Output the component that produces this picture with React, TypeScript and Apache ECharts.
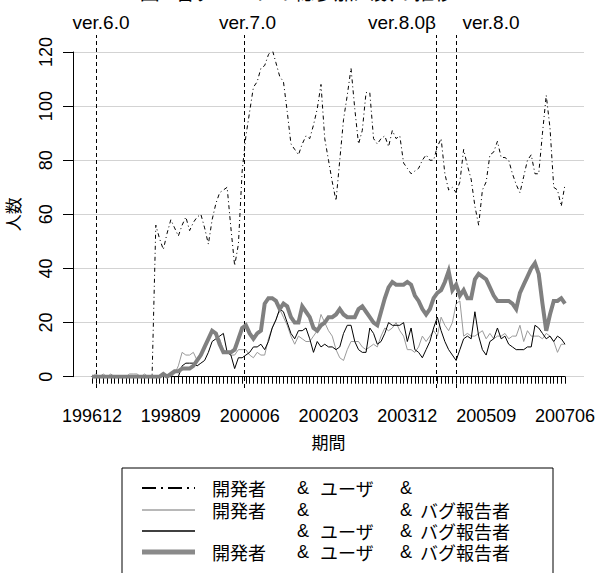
import React, { useEffect, useRef } from 'react';
import * as echarts from 'echarts';

// ---------- data ----------
const START_YEAR = 1996;
const START_MONTH = 12;
const MONTH_COUNT = 127;
const months: string[] = [];
for (let i = 0; i < MONTH_COUNT; i++) {
  const t = START_MONTH - 1 + i;
  const y = START_YEAR + Math.floor(t / 12);
  const m = (t % 12) + 1;
  months.push(`${y}${m < 10 ? '0' + m : m}`);
}

// 開発者 & ユーザ &
const devUser = [
  0, 0, 0, 0, 0, 0, 0, 0, 0, 0,
  0, 0, 0, 0, 0, 0, 0, 56, 51, 47,
  53, 58, 55, 52, 56, 59, 54, 57, 59, 60,
  55, 49, 58, 64, 68, 69, 70, 55, 41, 49,
  76, 89, 98, 107, 109, 114, 115, 119, 121, 116,
  111, 109, 98, 86, 84, 82, 86, 89, 88, 93,
  99, 108, 88, 80, 72, 65, 80, 95, 104, 114,
  99, 86, 91, 105, 105, 88, 86, 88, 89, 85,
  91, 88, 89, 79, 77, 75, 76, 77, 80, 82,
  80, 80, 85, 88, 75, 69, 70, 68, 72, 84,
  78, 73, 63, 56, 69, 72, 82, 83, 87, 81,
  81, 80, 75, 71, 68, 74, 80, 82, 75, 75,
  90, 104, 92, 70, 69, 63, 71,
];

// 開発者 & & バグ報告者
const devBug = [
  0, 1, 0, 1, 0, 1, 0, 0, 0, 0,
  1, 1, 1, 0, 1, 0, 0, 0, 0, 0,
  0, 0, 1, 4, 9, 8, 8, 9, 6, 9,
  11, 14, 17, 15, 14, 10, 9, 8, 8, 10,
  10, 10, 8, 7, 9, 8, 8, 14, 18, 21,
  25, 22, 19, 15, 12, 15, 14, 13, 13, 15,
  17, 23, 20, 17, 15, 10, 7, 6, 10, 13,
  13, 13, 11, 10, 11, 12, 11, 15, 18, 17,
  18, 20, 17, 15, 10, 10, 9, 11, 15, 13,
  15, 17, 15, 22, 19, 17, 20, 27, 28, 15,
  16, 15, 15, 16, 17, 14, 16, 14, 15, 15,
  16, 14, 15, 15, 19, 13, 17, 15, 15, 15,
  14, 16, 15, 13, 9, 12, 12,
];

// & ユーザ & バグ報告者
const userBug = [
  0, 0, 0, 0, 0, 0, 0, 0, 0, 0,
  0, 0, 0, 0, 0, 0, 0, 0, 0, 0,
  0, 0, 0, 0, 4, 5, 5, 5, 4, 5,
  6, 9, 13, 14, 15, 16, 9, 8, 3, 7,
  7, 8, 9, 11, 11, 12, 10, 13, 18, 21,
  25, 24, 20, 16, 14, 17, 17, 18, 14, 9,
  13, 11, 12, 11, 11, 10, 11, 16, 19, 19,
  13, 10, 9, 9, 18, 16, 12, 13, 16, 20,
  19, 19, 19, 20, 13, 18, 10, 9, 7, 10,
  13, 18, 22, 17, 13, 10, 8, 6, 10, 14,
  15, 14, 24, 15, 10, 8, 13, 14, 18, 14,
  15, 12, 11, 10, 10, 10, 11, 11, 19, 18,
  16, 14, 15, 13, 15, 14, 12,
];

// 開発者 & ユーザ & バグ報告者
const allThree = [
  0, 0, 0, 0, 0, 0, 0, 0, 0, 0,
  0, 0, 0, 0, 0, 0, 0, 0, 0, 1,
  0, 1, 2, 2, 3, 3, 3, 4, 6, 8,
  11, 14, 17, 16, 12, 9, 9, 9, 10, 14,
  18, 19, 16, 14, 16, 17, 27, 29, 29, 28,
  25, 27, 26, 22, 20, 20, 26, 24, 22, 18,
  17, 19, 20, 22, 22, 23, 25, 23, 22, 22,
  22, 25, 26, 24, 22, 20, 19, 24, 29, 33,
  35, 34, 34, 34, 35, 34, 30, 28, 25, 23,
  25, 29, 31, 32, 35, 39, 32, 34, 30, 32,
  29, 29, 36, 38, 37, 36, 33, 30, 28, 28,
  28, 28, 27, 25, 31, 34, 37, 40, 42, 38,
  27, 17, 23, 28, 28, 29, 27,
];

// release markers (position in months from 199612)
const versionNames = ['ver.6.0', 'ver.7.0', 'ver.8.0β', 'ver.8.0'];
const versionAt = [1, 40.6, 91.8, 97];

const legendRows = [
  ['開発者', '&', 'ユーザ', '&', ''],
  ['開発者', '&', '', '&', 'バグ報告者'],
  ['', '&', 'ユーザ', '&', 'バグ報告者'],
  ['開発者', '&', 'ユーザ', '&', 'バグ報告者'],
];

const TITLE = '図4 各グループの総参加人数の推移';

// ---------- styles ----------
const LATIN = '"Liberation Sans", Arial, "Noto Sans CJK JP", sans-serif';
const CJK = '"Noto Sans CJK JP", "Liberation Sans", sans-serif';
const DASHDOT = [4, 3, 1, 3];
const seriesStyles = [
  { color: '#000000', width: 1, type: DASHDOT as any },
  { color: '#9a9a9a', width: 1, type: 'solid' },
  { color: '#000000', width: 1, type: 'solid' },
  { color: '#808080', width: 4, type: 'solid' },
];
const legendLineStyles = [
  { stroke: '#000', lineWidth: 2, lineDash: [14, 5, 2, 5] },
  { stroke: '#a0a0a0', lineWidth: 1.5, lineDash: null },
  { stroke: '#000', lineWidth: 1.5, lineDash: null },
  { stroke: '#8a8a8a', lineWidth: 5, lineDash: null },
];

function buildOption() {
  const seriesData = [devUser, devBug, userBug, allThree];
  const series: any[] = seriesData.map((d, i) => ({
    type: 'line',
    xAxisIndex: 0,
    yAxisIndex: 0,
    data: d,
    symbol: 'none',
    showSymbol: false,
    silent: true,
    z: 2 + i,
    lineStyle: { ...seriesStyles[i], cap: 'butt', join: 'miter' },
  }));
  series.push({
    type: 'line',
    xAxisIndex: 2,
    yAxisIndex: 2,
    data: [],
    symbol: 'none',
    silent: true,
    z: 1,
    markLine: {
      silent: true,
      symbol: 'none',
      animation: false,
      label: { show: false },
      lineStyle: { color: '#000', width: 1, type: [4, 3] },
      data: versionAt.map((v) => ({ xAxis: v })),
    },
  });

  const legendX = { line1: 142, line2: 195, cols: [212, 297, 320, 400, 420] };
  const legendY = [488, 510, 531, 552];
  const graphic: any[] = [
    {
      type: 'text',
      left: 'center',
      top: -19,
      style: { text: TITLE, font: `20px ${CJK}`, fill: '#000' },
    },
    {
      type: 'rect',
      shape: { x: 122, y: 468, width: 431, height: 130 },
      style: { fill: '#fff', stroke: '#000', lineWidth: 1 },
      z: 10,
    },
  ];
  const versionLabelX = [101, 247.5, 402, 491];
  versionNames.forEach((name, i) => {
    graphic.push({
      type: 'text',
      x: versionLabelX[i],
      y: 22,
      z: 10,
      style: {
        text: name,
        font: `19px ${LATIN}`,
        fill: '#000',
        align: 'center',
        verticalAlign: 'middle',
      },
    });
  });
  legendRows.forEach((row, r) => {
    const ls = legendLineStyles[r];
    graphic.push({
      type: 'line',
      z: 11,
      shape: { x1: legendX.line1, y1: legendY[r], x2: legendX.line2, y2: legendY[r] },
      style: { stroke: ls.stroke, lineWidth: ls.lineWidth, lineDash: ls.lineDash || undefined },
    });
    row.forEach((t, c) => {
      if (!t) return;
      graphic.push({
        type: 'text',
        z: 11,
        x: legendX.cols[c],
        y: legendY[r],
        style: {
          text: t,
          font: `18px ${t === '&' ? LATIN : CJK}`,
          lineHeight: 18,
          fill: '#000',
          align: 'left',
          verticalAlign: 'middle',
        },
      });
    });
  });

  return {
    animation: false,
    backgroundColor: '#ffffff',
    textStyle: { fontFamily: LATIN, color: '#000' },
    grid: [
      { left: 92, right: 30, top: 52, bottom: 196.3, containLabel: false, outerBoundsMode: 'none' },
      { left: 73, right: 11, top: 52, bottom: 196.3, containLabel: false, outerBoundsMode: 'none' },
      { left: 92, right: 30, top: 35, bottom: 185, containLabel: false, outerBoundsMode: 'none' },
    ],
    xAxis: [
      {
        gridIndex: 0,
        type: 'category',
        data: months,
        boundaryGap: false,
        offset: 11,
        axisLine: { show: true, lineStyle: { color: '#000', width: 1 } },
        axisTick: { show: true, interval: 0, length: 7, lineStyle: { color: '#000', width: 1 } },
        axisLabel: { interval: 20, fontSize: 18, color: '#000', fontFamily: LATIN, margin: 19 },
        splitLine: { show: false },
        name: '期間',
        nameLocation: 'middle',
        nameGap: 45,
        nameTextStyle: { fontSize: 17, fontFamily: CJK, color: '#000' },
      },
      { gridIndex: 1, type: 'value', min: 0, max: 1, show: false },
      { gridIndex: 2, type: 'value', min: 0, max: 126, show: false },
    ],
    yAxis: [
      { gridIndex: 0, type: 'value', min: 0, max: 120, show: false },
      {
        gridIndex: 1,
        type: 'value',
        min: 0,
        max: 120,
        interval: 20,
        axisLine: { show: true, lineStyle: { color: '#000', width: 1 } },
        axisTick: { show: true, length: 10, lineStyle: { color: '#000', width: 1 } },
        axisLabel: { rotate: 90, fontSize: 18, color: '#000', fontFamily: LATIN, margin: 18 },
        splitLine: { show: true, lineStyle: { color: '#d3d3d3', width: 1 } },
        name: '人数',
        nameLocation: 'middle',
        nameRotate: 90,
        nameGap: 52,
        nameTextStyle: { fontSize: 17, fontFamily: CJK, color: '#000' },
      },
      { gridIndex: 2, type: 'value', min: 0, max: 1, show: false },
    ],
    series,
    graphic,
  };
}

export default function App() {
  const ref = useRef<HTMLDivElement>(null);
  useEffect(() => {
    if (!ref.current) return;
    const chart = echarts.init(ref.current, null, { renderer: 'svg' });
    chart.setOption(buildOption() as any);
    return () => chart.dispose();
  }, []);
  return (
    <div
      ref={ref}
      style={{ position: 'fixed', left: 0, top: 0, width: 595, height: 573, background: '#fff' }}
    />
  );
}
